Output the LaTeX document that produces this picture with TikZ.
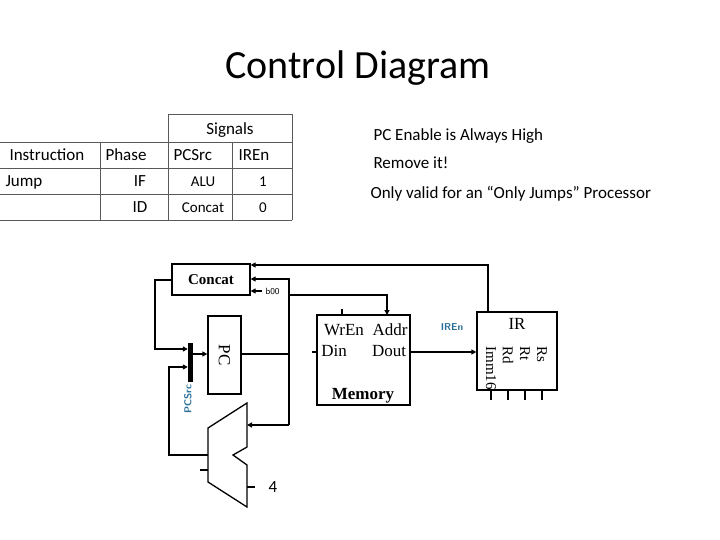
\documentclass[tikz,border=0pt]{standalone}
\usepackage{fontspec}
\setmainfont{Carlito}
\newfontfamily\serf{Liberation Serif}
\usetikzlibrary{arrows.meta}
\definecolor{sigblue}{RGB}{40,110,150}
\begin{document}
\begin{tikzpicture}[x=1pt,y=-1pt,
  wire/.style={line width=1.3pt},
  arr/.style={wire,-{Triangle[length=5pt,width=5pt]}},
  box/.style={draw,line width=1.3pt,inner sep=0pt},
  cell/.style={font=\fontsize{17}{17}\selectfont,anchor=base}]
\useasboundingbox (0,0) rectangle (720,540);
\node[font=\fontsize{40}{40}\selectfont] (title) at (358,68) {Control Diagram};
% table
\draw[line width=0.5pt,gray!70!black] (168,114) -- (292,114) (0,142) -- (292,142) (0,168) -- (292,168) (0,194) -- (292,194) (0,220) -- (292,220)
  (168,114) -- (168,220) (292,114) -- (292,220) (232,142) -- (232,220) (100,142) -- (100,220);
\node[cell] (sig) at (230,135) {Signals};
\node[cell,anchor=base west] (ins) at (6,161) {Instruction};
\node[cell,anchor=base west] (ph) at (102,161) {Phase};
\node[cell,anchor=base west] (pcs) at (170,161) {PCSrc};
\node[cell,anchor=base west] (ire) at (235,161) {IREn};
\node[cell,anchor=base west] (jmp) at (2,187) {Jump};
\node[cell] (if) at (140,187) {IF};
\node[cell,font=\fontsize{15}{15}\selectfont] (alu1) at (203,187) {ALU};
\node[cell,font=\fontsize{15}{15}\selectfont] (one) at (263,187) {1};
\node[cell] (id) at (140,213) {ID};
\node[cell,font=\fontsize{15}{15}\selectfont] (cc) at (203,213) {Concat};
\node[cell,font=\fontsize{15}{15}\selectfont] (zero) at (263,213) {0};
\node[cell,anchor=base west] (n1) at (370,141) {PC Enable is Always High};
\node[cell,anchor=base west] (n2) at (370,169) {Remove it!};
\node[cell,anchor=base west] (n3) at (367,199) {Only valid for an “Only Jumps” Processor};
% components
\node[box,minimum width=78pt,minimum height=31pt,font=\serf\bfseries\fontsize{15}{15}\selectfont] (concat) at (211,279.5) {Concat};
\node[box,minimum width=33pt,minimum height=78pt] (pc) at (224.5,355) {};
\node[font=\serf\fontsize{17}{17}\selectfont,rotate=-90] (pct) at (224.5,355) {PC};
\node[box,minimum width=93pt,minimum height=90pt] (mem) at (363.5,360) {};
\node[font=\serf\fontsize{17}{17}\selectfont,anchor=base] (wren) at (344,335) {WrEn};
\node[font=\serf\fontsize{17}{17}\selectfont,anchor=base] (addr) at (390,335) {Addr};
\node[font=\serf\fontsize{17}{17}\selectfont,anchor=base] (din) at (334,356) {Din};
\node[font=\serf\fontsize{17}{17}\selectfont,anchor=base] (dout) at (389,356) {Dout};
\node[font=\serf\bfseries\fontsize{17}{17}\selectfont,anchor=base] (memt) at (363,399) {Memory};
\node[box,minimum width=80pt,minimum height=78pt] (ir) at (517,351) {};
\node[font=\serf\fontsize{17}{17}\selectfont] (irt) at (517,324) {IR};
\foreach \n/\xx/\t in {imm/491/Imm16,rd/508/Rd,rt/525/Rt,rs/542/Rs}{
  \node[font=\serf\fontsize{15}{15}\selectfont,rotate=-90,anchor=west] (\n) at (\xx,343) {\t};
  \draw[wire] (\xx,390) -- (\xx,400);}
\node[font=\sffamily\bfseries\fontsize{10}{10}\selectfont,text=sigblue] (iren) at (452,327) {IREn};
\node[fill=black,minimum width=5pt,minimum height=39pt,inner sep=0pt] (mux) at (190.5,362.5) {};
\node[font=\sffamily\bfseries\fontsize{10}{10}\selectfont,text=sigblue,rotate=90] (pcsrc) at (188,399) {PCSrc};
\node[font=\sffamily\fontsize{9}{9}\selectfont,anchor=west] (b00) at (262,291) {b00};
\node[font=\fontsize{17}{17}\selectfont] (four) at (273,487) {4};
% ALU
\draw[line width=1.3pt] (247,403) -- (208,428) -- (208,482) -- (247,507) -- (247,465) -- (233,455) -- (247,447) -- cycle;
\coordinate (alutop) at (247,425);
% wires
\draw[arr] (ir.north -| 488,312) -- (488,265) -- (concat.north east |- 0,265);
\draw[arr] (pc.east |- 0,354) -- (289,354) -- (289,279) -- (concat.east |- 0,279);
\draw[wire] (289,354) -- (289,425);
\draw[arr] (289,425) -- (alutop);
\draw[arr] (b00.west) -- (concat.east |- 0,291);
\draw[arr] (289,295) -- (387,295) -- (387,315);
\draw[wire] (342,309) -- (342,315);
\draw[wire] (312,352) -- (317,352);
\draw[arr] (mem.east |- 0,352) -- (ir.west |- 0,352);
\draw[arr] (concat.west |- 0,280) -- (155,280) -- (155,349) -- (mux.west |- 0,349);
\draw[arr] (208,455) -- (169,455) -- (169,367) -- (mux.west |- 0,367);
\draw[arr] (mux.east |- 0,354) -- (pc.west |- 0,354);
\draw[wire] (200,470) -- (208,470);
\draw[wire] (247,487) -- (255,487);
\end{tikzpicture}
\end{document}
